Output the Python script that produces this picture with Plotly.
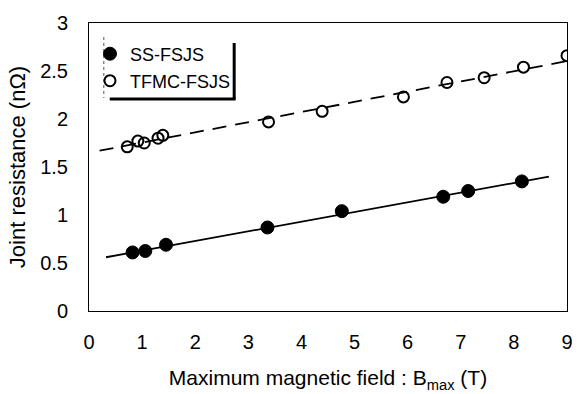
import plotly.graph_objects as go

# SS-FSJS (filled)
ss_x = [0.82, 1.06, 1.45, 3.36, 4.76, 6.67, 7.14, 8.15]
ss_y = [0.61, 0.625, 0.69, 0.87, 1.04, 1.19, 1.25, 1.35]
# TFMC-FSJS (open)
tf_x = [0.72, 0.92, 1.04, 1.30, 1.39, 3.38, 4.39, 5.92, 6.74, 7.44, 8.18, 9.0]
tf_y = [1.71, 1.77, 1.75, 1.80, 1.83, 1.97, 2.08, 2.23, 2.38, 2.43, 2.54, 2.66]
# fit lines (end points)
ss_fit_x = [0.32, 8.66]
ss_fit_y = [0.56, 1.40]
tf_fit_x = [0.2, 8.97]
tf_fit_y = [1.67, 2.60]

x_ticks = list(range(0, 10))
y_ticks = [0, 0.5, 1, 1.5, 2, 2.5, 3]
y_tick_text = ["0", "0.5", "1", "1.5", "2", "2.5", "3"]

FONT = "Liberation Sans, Arial, sans-serif"

fig = go.Figure()
fig.add_trace(go.Scatter(x=ss_fit_x, y=ss_fit_y, mode="lines",
                         line=dict(color="black", width=1.8), showlegend=False, hoverinfo="skip"))
fig.add_trace(go.Scatter(x=tf_fit_x, y=tf_fit_y, mode="lines",
                         line=dict(color="black", width=1.8, dash="14px,9px"), showlegend=False, hoverinfo="skip"))
fig.add_trace(go.Scatter(x=ss_x, y=ss_y, mode="markers", name="SS-FSJS",
                         marker=dict(symbol="circle", size=13, color="black",
                                     line=dict(color="black", width=1)),
                         legend="legend"))
fig.add_trace(go.Scatter(x=tf_x, y=tf_y, mode="markers", name="TFMC-FSJS",
                         marker=dict(symbol="circle-open", size=11, color="black",
                                     line=dict(color="black", width=2)),
                         legend="legend2"))

L, R, T, B = 89, 7, 23, 83
W, H = 580, 394
pw, ph = W - L - R, H - T - B

def px(X):
    return (X - L) / pw

def py(Y):
    return (H - B - Y) / ph

leg_common = dict(bgcolor="rgba(0,0,0,0)", borderwidth=0,
                  font=dict(family=FONT, size=18, color="black"),
                  xanchor="left", yanchor="middle", itemwidth=30)

fig.update_layout(
    width=W, height=H,
    margin=dict(l=L, r=R, t=T, b=B, pad=0),
    paper_bgcolor="white", plot_bgcolor="white",
    font=dict(family=FONT, size=18, color="black"),
    legend=dict(x=px(90), y=py(54), **leg_common),
    legend2=dict(x=px(90), y=py(81), **leg_common),
    xaxis=dict(range=[0, 9], tickvals=x_ticks, showgrid=False, zeroline=False,
               showline=True, linecolor="black", linewidth=1, mirror=True,
               ticks="", ticklabelstandoff=13,
               tickfont=dict(family=FONT, size=20, color="black"),
               title=dict(text="Maximum magnetic field : B<sub>max</sub> (T)",
                          font=dict(family=FONT, size=21, color="black"), standoff=18)),
    yaxis=dict(range=[0, 3], tickvals=y_ticks, ticktext=y_tick_text, showgrid=False, zeroline=False,
               showline=True, linecolor="black", linewidth=1, mirror=True,
               ticks="", ticklabelstandoff=16,
               tickfont=dict(family=FONT, size=20, color="black"),
               title=dict(text="Joint resistance (nΩ)",
                          font=dict(family=FONT, size=22, color="black"), standoff=8)),
    shapes=[
        dict(type="line", xref="paper", yref="paper", x0=px(236), x1=px(236), y0=py(43), y1=py(99),
             line=dict(color="black", width=3)),
        dict(type="line", xref="paper", yref="paper", x0=px(110), x1=px(237.5), y0=py(99), y1=py(99),
             line=dict(color="black", width=3)),
        dict(type="line", xref="paper", yref="paper", x0=px(104), x1=px(104), y0=py(37), y1=py(98),
             line=dict(color="#555", width=1, dash="dot")),
    ],
)

fig.write_html("out.html")
